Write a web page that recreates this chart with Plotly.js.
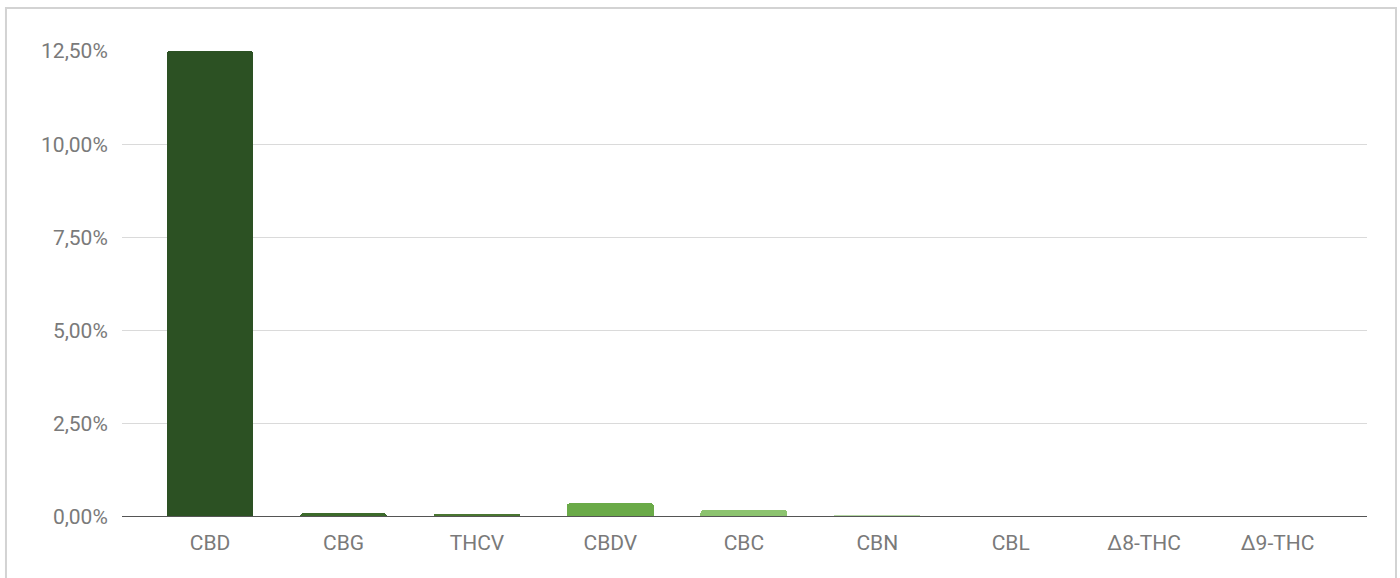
<!DOCTYPE html>
<html>
<head>
<meta charset="utf-8">
<script src="https://cdn.plot.ly/plotly-3.0.1.min.js"></script>
<style>html,body{margin:0;padding:0;background:#fff;}#chart{width:1400px;height:578px;}</style>
</head>
<body>
<div id="chart"></div>
<script>
const categories = ["CBD", "CBG", "THCV", "CBDV", "CBC", "CBN", "CBL", "Δ8-THC", "Δ9-THC"];
const values = [0.125, 0.001, 0.0009, 0.0037, 0.0018, 0.0005, 0.0002, 0.0, 0.0001];
const barColors = ["#2c5123", "#3c6a2b", "#4a7631", "#6aaa48", "#8cc36f", "#b7d9a6", "#d3d8d0", "#c8d0c4", "#c9d2c4"];
const yTicks = [0, 0.025, 0.05, 0.075, 0.10, 0.125];

const trace = {
  type: "bar",
  x: categories.map((c, i) => i),
  y: values,
  width: 0.65,
  marker: { color: barColors, cornerradius: 3 },
  hoverinfo: "none",
  cliponaxis: false
};

const layout = {
  width: 1400, height: 578,
  margin: { l: 122, r: 33, t: 51, b: 61 },
  paper_bgcolor: "#ffffff", plot_bgcolor: "#ffffff",
  separators: ",.",
  font: { family: "Roboto, 'Noto Sans', sans-serif", size: 21, color: "#7a7a7a" },
  showlegend: false,
  bargap: 0,
  xaxis: {
    range: [-0.66, 8.67],
    tickvals: categories.map((c, i) => i),
    ticktext: categories,
    showgrid: false, zeroline: false, showline: false,
    ticks: "outside", ticklen: 7, tickcolor: "rgba(0,0,0,0)",
    tickfont: { size: 21, color: "#7a7a7a" }
  },
  yaxis: {
    range: [0, 0.125],
    tickvals: yTicks,
    tickformat: ".2%",
    showgrid: true, gridcolor: "#dadada", gridwidth: 1,
    zeroline: false, showline: false,
    ticks: "outside", ticklen: 9, tickcolor: "rgba(0,0,0,0)",
    tickfont: { size: 21, color: "#7a7a7a" }
  },
  shapes: [
    { type: "rect", xref: "paper", yref: "paper", x0: -0.0932, x1: 1.0233, y0: -0.14, y1: 1.0923,
      line: { color: "#d3d3d3", width: 2 }, fillcolor: "rgba(0,0,0,0)", layer: "below" },
    { type: "line", xref: "paper", yref: "y", x0: 0, x1: 1, y0: 0, y1: 0,
      line: { color: "#555555", width: 2 }, layer: "above" }
  ]
};

Plotly.newPlot("chart", [trace], layout, { staticPlot: true, displayModeBar: false });
</script>
</body>
</html>
